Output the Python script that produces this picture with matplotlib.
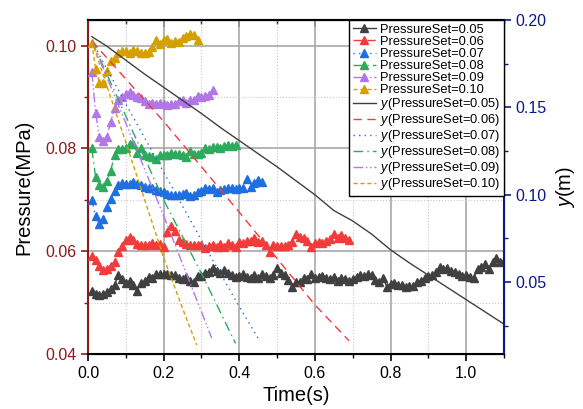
import matplotlib
matplotlib.use("Agg")
import matplotlib.pyplot as plt
from matplotlib.ticker import MultipleLocator

plt.rcParams['font.family'] = ['Liberation Sans', 'DejaVu Sans']
plt.rcParams['mathtext.fontset'] = 'custom'
plt.rcParams['mathtext.it'] = 'Liberation Sans:italic'
plt.rcParams['mathtext.rm'] = 'Liberation Sans'

# pressure readings (MPa), one point every 0.01 s starting at 0.01 s
p005 = [0.0522, 0.0517, 0.0514, 0.0516, 0.0521, 0.0527, 0.0535, 0.0554, 0.0545, 0.0538,
        0.0542, 0.0535, 0.0523, 0.0538, 0.0542, 0.0550, 0.0548, 0.0555, 0.0556, 0.0555,
        0.0556, 0.0553, 0.0554, 0.0548, 0.0545, 0.0549, 0.0543, 0.0540, 0.0552, 0.0551,
        0.0558, 0.0560, 0.0568, 0.0562, 0.0558, 0.0563, 0.0557, 0.0554, 0.0549, 0.0551,
        0.0556, 0.0550, 0.0548, 0.0553, 0.0547, 0.0555, 0.0551, 0.0548, 0.0553, 0.0567,
        0.0558, 0.0553, 0.0544, 0.0530, 0.0540, 0.0541, 0.0547, 0.0545, 0.0556, 0.0547,
        0.0550, 0.0551, 0.0548, 0.0545, 0.0549, 0.0543, 0.0547, 0.0545, 0.0542, 0.0546,
        0.0550, 0.0553, 0.0551, 0.0555, 0.0553, 0.0544, 0.0541, 0.0548, 0.0531, 0.0536,
        0.0538, 0.0535, 0.0534, 0.0531, 0.0533, 0.0532, 0.0540, 0.0543, 0.0548, 0.0551,
        0.0553, 0.0560, 0.0569, 0.0565, 0.0568, 0.0562, 0.0559, 0.0556, 0.0552, 0.0553,
        0.0550, 0.0548, 0.0565, 0.0570, 0.0575, 0.0565, 0.0580, 0.0587, 0.0580, 0.0581]
p006 = [0.0590, 0.0583, 0.0572, 0.0563, 0.0566, 0.0572, 0.0580, 0.0598, 0.0610, 0.0622,
        0.0627, 0.0621, 0.0614, 0.0613, 0.0613, 0.0612, 0.0617, 0.0612, 0.0615, 0.0608,
        0.0637, 0.0650, 0.0640, 0.0622, 0.0618, 0.0614, 0.0613, 0.0612, 0.0613, 0.0612,
        0.0606, 0.0611, 0.0613, 0.0609, 0.0614, 0.0608, 0.0617, 0.0613, 0.0608, 0.0618,
        0.0617, 0.0619, 0.0620, 0.0625, 0.0618, 0.0620, 0.0612, 0.0598, 0.0613, 0.0610,
        0.0611, 0.0610, 0.0612, 0.0618, 0.0633, 0.0628, 0.0625, 0.0620, 0.0608, 0.0616,
        0.0618, 0.0617, 0.0620, 0.0624, 0.0633, 0.0625, 0.0632, 0.0626, 0.0622]
p007 = [0.0700, 0.0668, 0.0653, 0.0663, 0.0686, 0.0702, 0.0718, 0.0728, 0.0733, 0.0731,
        0.0730, 0.0734, 0.0730, 0.0729, 0.0725, 0.0723, 0.0724, 0.0720, 0.0718, 0.0716,
        0.0711, 0.0710, 0.0709, 0.0709, 0.0711, 0.0714, 0.0708, 0.0709, 0.0715, 0.0717,
        0.0723, 0.0722, 0.0723, 0.0716, 0.0720, 0.0722, 0.0723, 0.0724, 0.0722, 0.0724,
        0.0723, 0.0741, 0.0726, 0.0733, 0.0738, 0.0735]
p008 = [0.0800, 0.0744, 0.0728, 0.0726, 0.0737, 0.0757, 0.0787, 0.0799, 0.0799, 0.0801,
        0.0808, 0.0809, 0.0792, 0.0800, 0.0788, 0.0786, 0.0783, 0.0780, 0.0788, 0.0787,
        0.0788, 0.0792, 0.0790, 0.0789, 0.0788, 0.0783, 0.0795, 0.0790, 0.0790, 0.0791,
        0.0800, 0.0799, 0.0802, 0.0802, 0.0801, 0.0804, 0.0806, 0.0804, 0.0807]
p009 = [0.0949, 0.0870, 0.0822, 0.0815, 0.0823, 0.0852, 0.0878, 0.0895, 0.0901, 0.0906,
        0.0909, 0.0905, 0.0900, 0.0898, 0.0893, 0.0886, 0.0888, 0.0886, 0.0888, 0.0886,
        0.0884, 0.0886, 0.0887, 0.0892, 0.0895, 0.0888, 0.0894, 0.0894, 0.0902, 0.0900,
        0.0903, 0.0905, 0.0913]
p010 = [0.1005, 0.0955, 0.0928, 0.0928, 0.0950, 0.0970, 0.0976, 0.0986, 0.0990, 0.0989,
        0.0986, 0.0992, 0.0989, 0.0986, 0.0985, 0.0988, 0.0997, 0.1012, 0.1004, 0.1012,
        0.1014, 0.1006, 0.1010, 0.1008, 0.1015, 0.1018, 0.1022, 0.1020, 0.1012]
pressure = [p005, p006, p007, p008, p009, p010]

# height y (m) curves
h005_t = [0.01, 0.05, 0.10, 0.15, 0.20, 0.25, 0.30, 0.35, 0.40, 0.45, 0.50, 0.55,
          0.60, 0.65, 0.70, 0.75, 0.80, 0.85, 0.90, 0.95, 1.00, 1.05, 1.10]
h005 = [0.1905, 0.1850, 0.1770, 0.1690, 0.1615, 0.1540, 0.1465, 0.1385, 0.1310, 0.1235,
        0.1160, 0.1080, 0.1000, 0.0910, 0.0850, 0.0775, 0.0685, 0.0610, 0.0540, 0.0470,
        0.0400, 0.0330, 0.0260]
h006_t = [0.01, 0.20, 0.40, 0.60, 0.69]
h006 = [0.188, 0.142, 0.090, 0.037, 0.0165]
h007_t = [0.01, 0.10, 0.20, 0.30, 0.40, 0.455]
h007 = [0.188, 0.152, 0.113, 0.074, 0.036, 0.016]
h008_t = [0.01, 0.10, 0.20, 0.30, 0.39]
h008 = [0.188, 0.145, 0.097, 0.055, 0.015]
h009_t = [0.01, 0.10, 0.20, 0.30, 0.327]
h009 = [0.188, 0.141, 0.088, 0.033, 0.018]
h010_t = [0.01, 0.10, 0.15, 0.20, 0.25, 0.2875]
h010 = [0.188, 0.130, 0.097, 0.064, 0.035, 0.014]
heights = [(h005_t, h005), (h006_t, h006), (h007_t, h007),
           (h008_t, h008), (h009_t, h009), (h010_t, h010)]

labels = ['0.05', '0.06', '0.07', '0.08', '0.09', '0.10']
colors = ['#404040', '#F23B3B', '#1F6FE0', '#2EAA5E', '#B177E6', '#D4A000']
styles = ['-', (0, (6, 4)), (0, (1, 3)), (0, (7, 3, 1, 3)),
          (0, (7, 2, 1, 2, 1, 2)), (0, (3, 2))]

fig = plt.figure(figsize=(5.83, 4.09), dpi=100)
ax = fig.add_axes([0.151, 0.1345, 0.7135, 0.8165])
ax2 = ax.twinx()

handles = []
for p, c, ls, lab in zip(pressure, colors, styles, labels):
    t = [0.01 * (i + 1) for i in range(len(p))]
    h, = ax.plot(t, p, color=c, ls=ls, lw=1, marker='^', ms=5.5, mec=c, mfc=c,
                 label='PressureSet=' + lab, zorder=3)
    handles.append(h)
for (t, y), c, ls, lab in zip(heights, colors, styles, labels):
    h, = ax2.plot(t, y, color=c, ls=ls, lw=1, label='$y$(PressureSet=' + lab + ')')
    handles.append(h)

red = '#8B1A1A'
navy = '#0A1A8B'
ax.set_xlim(0, 1.1)
ax.set_ylim(0.04, 0.105)
ax2.set_ylim(0.0089, 0.20)
ax.xaxis.set_major_locator(MultipleLocator(0.2))
ax.xaxis.set_minor_locator(MultipleLocator(0.1))
ax.yaxis.set_major_locator(MultipleLocator(0.02))
ax.yaxis.set_minor_locator(MultipleLocator(0.01))
ax2.yaxis.set_major_locator(MultipleLocator(0.05))
ax2.yaxis.set_minor_locator(MultipleLocator(0.025))
ax.xaxis.set_major_formatter(lambda v, pos: '%.1f' % v)
ax.yaxis.set_major_formatter(lambda v, pos: '%.2f' % v)
ax2.yaxis.set_major_formatter(lambda v, pos: '%.2f' % v)

ax.grid(which='major', color='#A8A8A8', lw=1.2, ls='-')
ax.grid(which='minor', color='#C8C8C8', lw=0.8, ls=':')
ax.set_axisbelow(True)

for s in ['top', 'bottom']:
    ax.spines[s].set_linewidth(1.5)
ax.spines['left'].set_color(red)
ax.spines['left'].set_linewidth(1.5)
ax2.spines['right'].set_color(navy)
ax2.spines['right'].set_linewidth(1.5)
ax2.spines['left'].set_visible(False)

ax.tick_params(axis='x', which='major', length=5, width=1.2, labelsize=11.5, pad=4)
ax.tick_params(axis='x', which='minor', length=3, width=1)
ax.tick_params(axis='y', which='major', length=5, width=1.2, colors=red, labelsize=11.5)
ax.tick_params(axis='y', which='minor', length=3, width=1, colors=red)
ax2.tick_params(axis='y', which='major', length=5, width=1.2, colors=navy, labelsize=11.5)
ax2.tick_params(axis='y', which='minor', length=3, width=1, colors=navy)

top = ax.secondary_xaxis('top')
top.xaxis.set_major_locator(MultipleLocator(0.2))
top.xaxis.set_minor_locator(MultipleLocator(0.1))
top.tick_params(which='major', direction='in', length=5, width=1.2, labeltop=False)
top.tick_params(which='minor', direction='in', length=3, width=1)
top.spines['top'].set_linewidth(1.5)

ax.set_xlabel('Time(s)', fontsize=14.5, labelpad=3)
ax.set_ylabel('Pressure(MPa)', fontsize=14.5, labelpad=8)
ax2.set_ylabel('$y$(m)', fontsize=14.5, labelpad=5)

leg = ax2.legend(handles=handles, loc='upper right', fontsize=9.3, frameon=True,
                 fancybox=False, edgecolor='black', framealpha=1,
                 borderaxespad=0, labelspacing=0.0, handlelength=1.8,
                 handletextpad=0.3, borderpad=0.3)
leg.get_frame().set_linewidth(1)

fig.savefig('out.png', dpi=100)
